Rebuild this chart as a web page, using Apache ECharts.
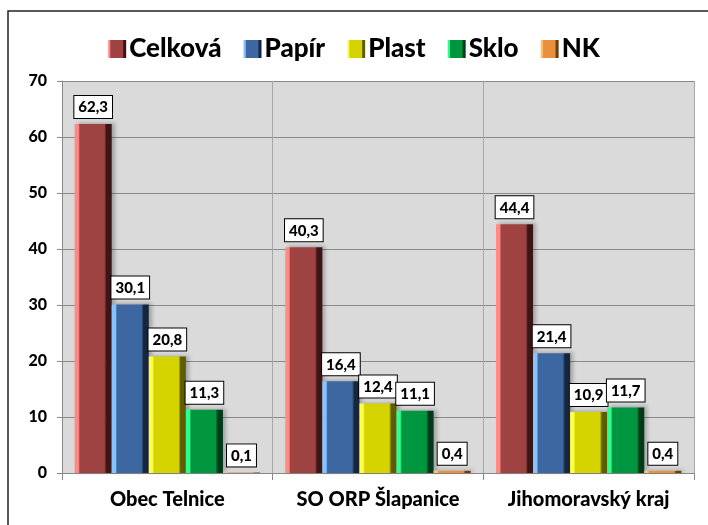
<!DOCTYPE html>
<html><head><meta charset="utf-8">
<script src="https://cdn.jsdelivr.net/npm/echarts@6/dist/echarts.min.js"></script>
<style>html,body{margin:0;padding:0;background:#fff}#c{width:708px;height:525px}</style>
</head><body><div id="c"></div>
<script>
const categories = ['Obec Telnice', 'SO ORP Šlapanice', 'Jihomoravský kraj'];
const seriesNames = ['Celková', 'Papír', 'Plast', 'Sklo', 'NK'];
const celkova = [62.3, 40.3, 44.4];
const papir = [30.1, 16.4, 21.4];
const plast = [20.8, 12.4, 10.9];
const sklo = [11.3, 11.1, 11.7];
const nk = [0.1, 0.4, 0.4];
const yTicks = [0, 10, 20, 30, 40, 50, 60, 70];

const values = [celkova, papir, plast, sklo, nk];
const palettes = [
  ['#ff8a84', '#9e4242', '#3c1616'],
  ['#86c4ff', '#3d67a0', '#17263d'],
  ['#ffff4a', '#d6d400', '#5e5c00'],
  ['#2cff8c', '#00963f', '#003a1a'],
  ['#ffc070', '#e8903c', '#6a3a10']
];
const font = 'Lato, "Open Sans", sans-serif';
const fw = 900;

function grad(p) {
  return new echarts.graphic.LinearGradient(0, 0, 1, 0, [
    {offset: 0, color: p[0]}, {offset: 0.1, color: p[0]},
    {offset: 0.14, color: p[1]}, {offset: 0.8, color: p[1]},
    {offset: 0.86, color: p[2]}, {offset: 1, color: p[2]}
  ]);
}

const chart = echarts.init(document.getElementById('c'));
chart.setOption({
  animation: false,
  backgroundColor: '#fff',
  graphic: [{
    type: 'rect', shape: {x: 8, y: 11, width: 720, height: 540},
    style: {fill: 'none', stroke: '#222', lineWidth: 1.5}, z: 100, silent: true
  }],
  legend: {
    data: seriesNames,
    top: 31, left: 'center',
    itemWidth: 18, itemHeight: 18, itemGap: 22,
    icon: 'rect',
    textStyle: {fontFamily: font, fontWeight: fw, fontSize: 26, color: '#000', padding: [0, 0, 0, -2]}
  },
  grid: {left: 62, right: 14, top: 81, bottom: 52, show: true, backgroundColor: '#dadada', borderWidth: 0},
  xAxis: {
    type: 'category', data: categories,
    axisLine: {show: true, lineStyle: {color: '#888', width: 1}},
    axisTick: {show: true, interval: 0, length: 7, lineStyle: {color: '#888'}},
    splitLine: {show: true, interval: 0, lineStyle: {color: '#a8a8a8', width: 1}},
    axisLabel: {interval: 0, fontFamily: font, fontWeight: fw, fontSize: 20, color: '#000', margin: 17}
  },
  yAxis: {
    type: 'value', min: yTicks[0], max: yTicks[yTicks.length - 1], interval: 10,
    axisLine: {show: true, lineStyle: {color: '#888'}},
    axisTick: {show: true, length: 5, lineStyle: {color: '#888'}},
    splitLine: {show: true, lineStyle: {color: '#8a8a8a', width: 1}},
    axisLabel: {fontFamily: font, fontWeight: fw, fontSize: 16, color: '#000', margin: 15}
  },
  series: seriesNames.map((name, i) => ({
    name: name, type: 'bar', data: values[i],
    barGap: '0%', barCategoryGap: '12%',
    itemStyle: {color: grad(palettes[i]), shadowColor: 'rgba(0,0,0,0.25)', shadowBlur: 4, shadowOffsetX: 3, shadowOffsetY: -1},
    label: {
      show: true, position: 'top', distance: 6,
      formatter: p => String(p.value).replace('.', ','),
      fontFamily: font, fontWeight: fw, fontSize: 15, color: '#000',
      backgroundColor: '#fff', borderColor: '#000', borderWidth: 1, padding: [4, 4, 3, 4]
    }
  }))
});
</script></body></html>
